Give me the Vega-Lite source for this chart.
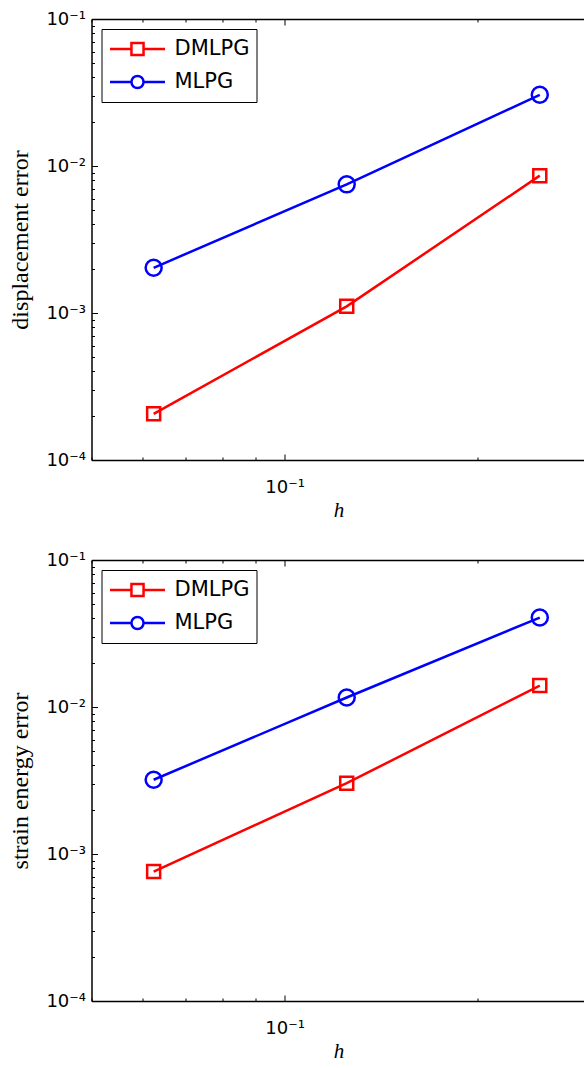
{
  "$schema": "https://vega.github.io/schema/vega-lite/v6.json",
  "background": "white",
  "padding": {"left": 8.5, "top": 10, "right": 0, "bottom": 0},
  "datasets": {
    "disp": [
      {"h": 0.0625, "error": 0.000206, "method": "DMLPG"},
      {"h": 0.125, "error": 0.00111, "method": "DMLPG"},
      {"h": 0.25, "error": 0.0086, "method": "DMLPG"},
      {"h": 0.0625, "error": 0.00203, "method": "MLPG"},
      {"h": 0.125, "error": 0.0075, "method": "MLPG"},
      {"h": 0.25, "error": 0.0305, "method": "MLPG"}
    ],
    "strain": [
      {"h": 0.0625, "error": 0.00076, "method": "DMLPG"},
      {"h": 0.125, "error": 0.00303, "method": "DMLPG"},
      {"h": 0.25, "error": 0.014, "method": "DMLPG"},
      {"h": 0.0625, "error": 0.0032, "method": "MLPG"},
      {"h": 0.125, "error": 0.0116, "method": "MLPG"},
      {"h": 0.25, "error": 0.0406, "method": "MLPG"}
    ]
  },
  "spacing": 100,
  "bounds": "flush",
  "vconcat": [
    {
      "width": 494,
      "height": 441,
      "data": {"name": "disp"},
      "encoding": {
        "y": {"field": "error", "type": "quantitative", "scale": {"type": "log", "domain": [0.0001, 0.1], "nice": false},
          "axis": {"values": [0.0001, 0.0002, 0.0003, 0.0004, 0.0005, 0.0006, 0.0007, 0.0008, 0.0009, 0.001, 0.002, 0.003, 0.004, 0.005, 0.006, 0.007, 0.008, 0.009, 0.01, 0.02, 0.03, 0.04, 0.05, 0.06, 0.07, 0.08, 0.09, 0.1],
            "labelExpr": "datum.value == 0.1 ? '10⁻¹' : datum.value == 0.01 ? '10⁻²' : datum.value == 0.001 ? '10⁻³' : datum.value == 0.0001 ? '10⁻⁴' : ''",
            "tickSize": {"condition": {"test": "datum.value == 0.1 || datum.value == 0.01 || datum.value == 0.001 || datum.value == 0.0001", "value": -6}, "value": -3},
            "labelPadding": 12, "title": "displacement error", "titleFontSize": 24, "titlePadding": 13}},
        "color": {"field": "method", "type": "nominal", "scale": {"domain": ["DMLPG", "MLPG"], "range": ["#ff0000", "#0000ff"]},
          "legend": {"title": null, "orient": "top-left", "offset": 10, "padding": 7, "strokeColor": "black", "fillColor": "white", "labelFont": "DejaVu Sans", "labelFontSize": 21, "labelColor": "black", "labelOffset": 8, "symbolSize": 3025, "clipHeight": 26, "rowPadding": 7, "symbolStrokeWidth": 2.5, "symbolFillColor": "transparent",
            "symbolType": {"expr": "datum.value === 'DMLPG' ? 'M-1,0H-0.22M0.22,0H1M-0.22,-0.22H0.22V0.22H-0.22Z' : 'M-1,0H-0.22M0.22,0H1M-0.22,0A0.22,0.22,0,1,1,0.22,0A0.22,0.22,0,1,1,-0.22,0Z'"}}}
      },
      "layer": [
        {
          "mark": {"type": "line", "strokeWidth": 2.5, "clip": true},
          "encoding": {
            "x": {"field": "h", "type": "quantitative", "scale": {"type": "log", "domain": [0.05, 0.2946], "nice": false},
              "axis": {"values": [0.05, 0.06, 0.07, 0.08, 0.09, 0.1, 0.2], "labelExpr": "datum.value == 0.1 ? '10⁻¹' : ''", "tickSize": {"condition": {"test": "datum.value == 0.1", "value": -6}, "value": -3}, "labelPadding": 24, "title": "h", "titleFont": "Liberation Serif", "titleFontStyle": "italic", "titleFontSize": 21, "titlePadding": 0}}
          }
        },
        {
          "transform": [{"filter": "datum.method === 'DMLPG'"}],
          "mark": {"type": "point", "shape": "square", "size": 169, "filled": false, "strokeWidth": 2.5, "opacity": 1},
          "encoding": {
            "x": {"field": "h", "type": "quantitative", "scale": {"type": "log", "domain": [0.05, 0.2946], "nice": false},
              "axis": {"orient": "top", "values": [0.05, 0.06, 0.07, 0.08, 0.09, 0.1, 0.2], "labels": false, "title": null, "tickSize": {"condition": {"test": "datum.value == 0.1", "value": -6}, "value": -3}}}
          }
        },
        {
          "transform": [{"filter": "datum.method === 'MLPG'"}],
          "mark": {"type": "point", "shape": "circle", "size": 256, "filled": false, "strokeWidth": 2.5, "opacity": 1},
          "encoding": {
            "x": {"field": "h", "type": "quantitative", "scale": {"type": "log", "domain": [0.05, 0.2946], "nice": false}, "axis": null}
          }
        }
      ],
      "resolve": {"axis": {"x": "independent"}}
    },
    {
      "width": 494,
      "height": 441,
      "data": {"name": "strain"},
      "encoding": {
        "y": {"field": "error", "type": "quantitative", "scale": {"type": "log", "domain": [0.0001, 0.1], "nice": false},
          "axis": {"values": [0.0001, 0.0002, 0.0003, 0.0004, 0.0005, 0.0006, 0.0007, 0.0008, 0.0009, 0.001, 0.002, 0.003, 0.004, 0.005, 0.006, 0.007, 0.008, 0.009, 0.01, 0.02, 0.03, 0.04, 0.05, 0.06, 0.07, 0.08, 0.09, 0.1],
            "labelExpr": "datum.value == 0.1 ? '10⁻¹' : datum.value == 0.01 ? '10⁻²' : datum.value == 0.001 ? '10⁻³' : datum.value == 0.0001 ? '10⁻⁴' : ''",
            "tickSize": {"condition": {"test": "datum.value == 0.1 || datum.value == 0.01 || datum.value == 0.001 || datum.value == 0.0001", "value": -6}, "value": -3},
            "labelPadding": 12, "title": "strain energy error", "titleFontSize": 24, "titlePadding": 13}},
        "color": {"field": "method", "type": "nominal", "scale": {"domain": ["DMLPG", "MLPG"], "range": ["#ff0000", "#0000ff"]},
          "legend": {"title": null, "orient": "top-left", "offset": 10, "padding": 7, "strokeColor": "black", "fillColor": "white", "labelFont": "DejaVu Sans", "labelFontSize": 21, "labelColor": "black", "labelOffset": 8, "symbolSize": 3025, "clipHeight": 26, "rowPadding": 7, "symbolStrokeWidth": 2.5, "symbolFillColor": "transparent",
            "symbolType": {"expr": "datum.value === 'DMLPG' ? 'M-1,0H-0.22M0.22,0H1M-0.22,-0.22H0.22V0.22H-0.22Z' : 'M-1,0H-0.22M0.22,0H1M-0.22,0A0.22,0.22,0,1,1,0.22,0A0.22,0.22,0,1,1,-0.22,0Z'"}}}
      },
      "layer": [
        {
          "mark": {"type": "line", "strokeWidth": 2.5, "clip": true},
          "encoding": {
            "x": {"field": "h", "type": "quantitative", "scale": {"type": "log", "domain": [0.05, 0.2946], "nice": false},
              "axis": {"values": [0.05, 0.06, 0.07, 0.08, 0.09, 0.1, 0.2], "labelExpr": "datum.value == 0.1 ? '10⁻¹' : ''", "tickSize": {"condition": {"test": "datum.value == 0.1", "value": -6}, "value": -3}, "labelPadding": 24, "title": "h", "titleFont": "Liberation Serif", "titleFontStyle": "italic", "titleFontSize": 21, "titlePadding": 0}}
          }
        },
        {
          "transform": [{"filter": "datum.method === 'DMLPG'"}],
          "mark": {"type": "point", "shape": "square", "size": 169, "filled": false, "strokeWidth": 2.5, "opacity": 1},
          "encoding": {
            "x": {"field": "h", "type": "quantitative", "scale": {"type": "log", "domain": [0.05, 0.2946], "nice": false},
              "axis": {"orient": "top", "values": [0.05, 0.06, 0.07, 0.08, 0.09, 0.1, 0.2], "labels": false, "title": null, "tickSize": {"condition": {"test": "datum.value == 0.1", "value": -6}, "value": -3}}}
          }
        },
        {
          "transform": [{"filter": "datum.method === 'MLPG'"}],
          "mark": {"type": "point", "shape": "circle", "size": 256, "filled": false, "strokeWidth": 2.5, "opacity": 1},
          "encoding": {
            "x": {"field": "h", "type": "quantitative", "scale": {"type": "log", "domain": [0.05, 0.2946], "nice": false}, "axis": null}
          }
        }
      ],
      "resolve": {"axis": {"x": "independent"}}
    }
  ],
  "resolve": {"scale": {"x": "independent", "y": "independent", "color": "independent"}, "legend": {"color": "independent"}},
  "config": {
    "view": {"stroke": null},
    "axis": {"domainColor": "black", "domainWidth": 1.5, "tickColor": "black", "tickWidth": 1, "labelFont": "DejaVu Sans", "labelFontSize": 18, "labelColor": "black", "titleFont": "Liberation Serif", "titleFontWeight": "normal", "titleColor": "black", "grid": false, "labelOverlap": false, "labelFlush": false}
  }
}
